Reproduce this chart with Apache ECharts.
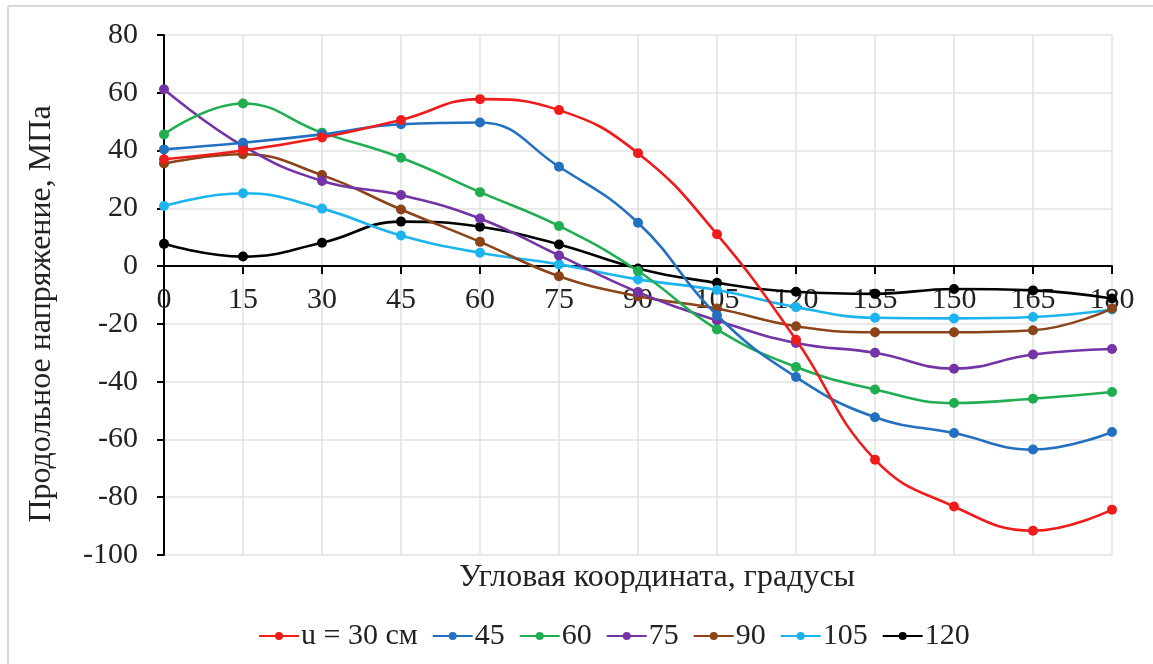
<!DOCTYPE html>
<html><head><meta charset="utf-8">
<script src="https://cdn.jsdelivr.net/npm/echarts@6/dist/echarts.min.js"></script>
<style>html,body{margin:0;padding:0;background:#fff}#c{width:1153px;height:664px}</style>
</head><body><div id="c"></div>
<script>
const angles = [0,15,30,45,60,75,90,105,120,135,150,165,180];
const seriesNames = ['u = 30 см','45','60','75','90','105','120'];
const u30  = [37.0,40.0,44.5,50.6,57.8,54.0,39.1,11.0,-25.5,-67.0,-83.2,-91.6,-84.3];
const u45  = [40.4,42.7,45.6,49.1,49.7,34.4,15.0,-17.0,-38.4,-52.3,-57.8,-63.5,-57.4];
const u60  = [45.6,56.3,46.2,37.5,25.6,13.9,-1.7,-21.9,-34.9,-42.7,-47.4,-45.9,-43.6];
const u75  = [61.2,41.6,29.5,24.6,16.5,3.7,-9.0,-18.8,-26.6,-30.0,-35.5,-30.6,-28.7];
const u90  = [35.5,38.7,31.5,19.6,8.4,-3.5,-10.4,-14.7,-20.8,-22.9,-22.9,-22.2,-14.7];
const u105 = [20.8,25.2,19.9,10.6,4.6,0.6,-4.6,-8.3,-14.2,-17.9,-18.1,-17.6,-15.0];
const u120 = [7.7,3.3,8.1,15.4,13.6,7.5,-0.8,-5.8,-8.9,-9.6,-7.9,-8.4,-11.2];
const allValues = [u30,u45,u60,u75,u90,u105,u120];
const colors = ['#f01c1c','#2470c0','#1fae50','#7434a6','#8a4418','#1cb4ee','#000000'];

const FONT = '"Liberation Serif","Times New Roman",serif';
const GRID_TOP = 35, GRID_BOTTOM_PX = 555, Y_MIN = -100, Y_MAX = 80;
const zeroOffset = -((GRID_BOTTOM_PX - GRID_TOP) * (0 - Y_MIN) / (Y_MAX - Y_MIN));

const chart = echarts.init(document.getElementById('c'));
chart.setOption({
  animation:false,
  backgroundColor:'#fff',
  color:colors,
  grid:{left:164,right:41,top:GRID_TOP,bottom:664-GRID_BOTTOM_PX,containLabel:false},
  xAxis:{type:'value',min:0,max:180,interval:15,position:'bottom',offset:zeroOffset,
    axisLine:{onZero:false,lineStyle:{color:'#000',width:2}},
    axisTick:{show:true,length:8,lineStyle:{color:'#000',width:2}},
    axisLabel:{fontFamily:FONT,fontSize:30,color:'#222',margin:19},
    splitLine:{show:true,lineStyle:{color:'#e2e2e2',width:1.5}}},
  yAxis:{type:'value',min:Y_MIN,max:Y_MAX,interval:20,
    axisLine:{show:true,lineStyle:{color:'#000',width:2}},
    axisTick:{show:true,length:7,lineStyle:{color:'#000',width:2}},
    axisLabel:{fontFamily:FONT,fontSize:30,color:'#222',margin:26},
    splitLine:{show:true,lineStyle:{color:'#e2e2e2',width:1.5}}},
  legend:{top:616,left:253,itemGap:14,itemWidth:40,itemHeight:10,
    textStyle:{fontFamily:FONT,fontSize:30,color:'#222',padding:[0,0,0,-3]},
    data:seriesNames},
  graphic:[
    {type:'line',shape:{x1:8,y1:6,x2:1153,y2:6},style:{stroke:'#d8d8d8',lineWidth:2},silent:true},
    {type:'line',shape:{x1:8,y1:6,x2:8,y2:664},style:{stroke:'#d8d8d8',lineWidth:2},silent:true},
    {type:'text',x:657,y:578,style:{text:'Угловая координата, градусы',font:'32px '+FONT,fill:'#222',textAlign:'center',textVerticalAlign:'middle'}},
    {type:'text',x:42,y:314,rotation:Math.PI/2,style:{text:'Продольное напряжение, МПа',font:'32px '+FONT,fill:'#222',textAlign:'center',textVerticalAlign:'middle'}}
  ],
  series: seriesNames.map((n,i)=>({
    name:n,type:'line',smooth:0.45,symbol:'circle',symbolSize:10,
    lineStyle:{width:2.6,color:colors[i]},itemStyle:{color:colors[i]},
    z: 10-i,
    data: angles.map((a,k)=>[a,allValues[i][k]])
  }))
});
</script></body></html>
